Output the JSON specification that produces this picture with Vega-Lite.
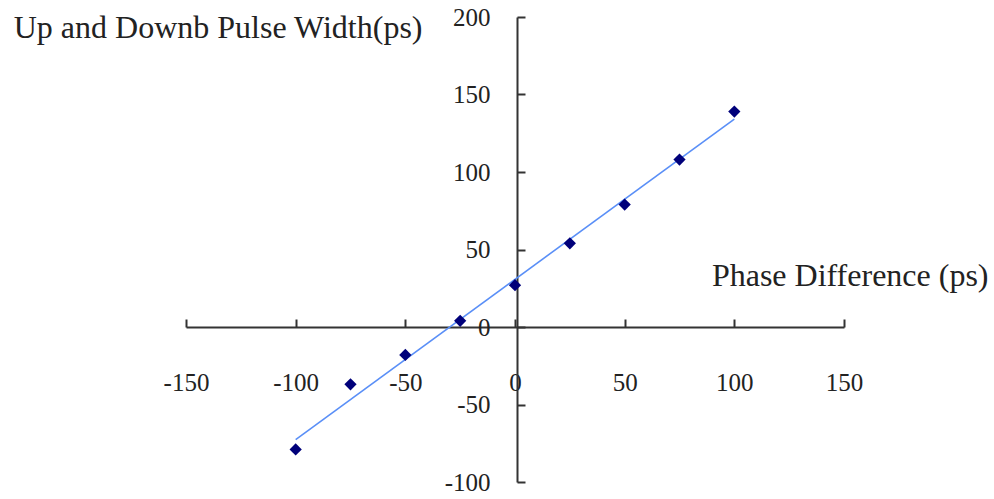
{
  "$schema": "https://vega.github.io/schema/vega-lite/v6.json",
  "autosize": {"type": "none"},
  "padding": {"left": 186, "top": 17, "right": 150, "bottom": 17},
  "width": 658,
  "height": 465,
  "background": "white",
  "config": {
    "view": {"stroke": null},
    "axis": {
      "grid": false,
      "domainColor": "#333333",
      "domainWidth": 2,
      "tickColor": "#333333",
      "tickWidth": 2,
      "labelFont": "Liberation Serif",
      "labelFontSize": 25,
      "labelColor": "#222222",
      "labelExpr": "datum.value + ''",
      "titleFont": "Liberation Serif",
      "titleFontSize": 32,
      "titleFontWeight": "normal",
      "titleColor": "#222222"
    }
  },
  "data": {
    "values": [
      {"phase": -100, "width": -79},
      {"phase": -75, "width": -37},
      {"phase": -50, "width": -18},
      {"phase": -25, "width": 4},
      {"phase": 0, "width": 27},
      {"phase": 25, "width": 54},
      {"phase": 50, "width": 79},
      {"phase": 75, "width": 108},
      {"phase": 100, "width": 139}
    ]
  },
  "layer": [
    {
      "transform": [{"regression": "width", "on": "phase", "extent": [-100, 100]}],
      "mark": {"type": "line", "color": "#5a8ff7", "strokeWidth": 1.6},
      "encoding": {
        "x": {"field": "phase", "type": "quantitative"},
        "y": {"field": "width", "type": "quantitative"}
      }
    },
    {
      "mark": {"type": "point", "shape": "diamond", "filled": true, "color": "#00007a", "size": 150, "opacity": 1},
      "encoding": {
        "x": {
          "field": "phase",
          "type": "quantitative",
          "scale": {"domain": [-150, 150], "nice": false, "zero": false},
          "axis": {
            "orient": "bottom",
            "offset": -155,
            "values": [-150, -100, -50, 0, 50, 100, 150],
            "tickSize": -8,
            "labelPadding": 51,
            "labelBaseline": "top",
            "labelFlush": false,
            "labelOverlap": false,
            "title": "Phase Difference (ps)",
            "titleAnchor": "start",
            "titleAlign": "right",
            "titleBaseline": "alphabetic",
            "titleX": 802,
            "titleY": -42
          }
        },
        "y": {
          "field": "width",
          "type": "quantitative",
          "scale": {"domain": [-100, 200], "nice": false, "zero": false},
          "axis": {
            "orient": "left",
            "offset": -331,
            "values": [-100, -50, 0, 50, 100, 150, 200],
            "tickSize": -8,
            "labelPadding": 35,
            "labelAlign": "right",
            "labelBaseline": "middle",
            "labelFlush": false,
            "labelOverlap": false,
            "title": "Up and Downb Pulse Width(ps)",
            "titleAngle": 0,
            "titleAlign": "right",
            "titleBaseline": "alphabetic",
            "titleX": -95,
            "titleY": 20
          }
        }
      }
    }
  ]
}
